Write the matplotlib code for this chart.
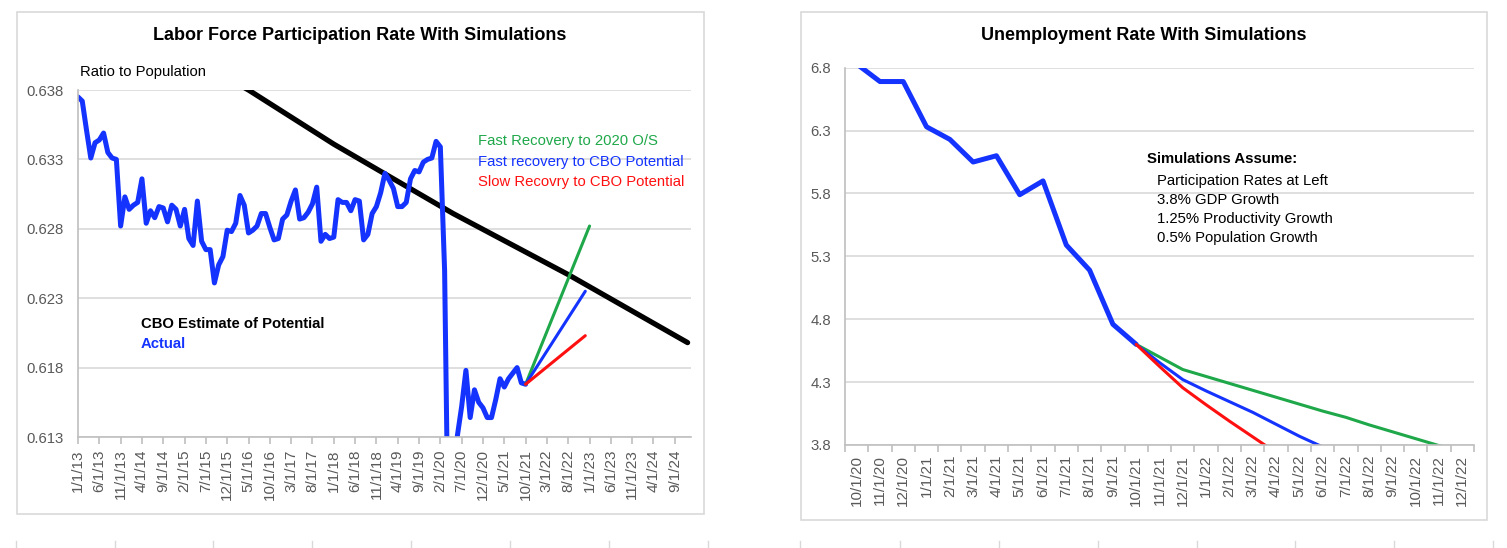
#!/usr/bin/env python

import matplotlib
matplotlib.use('Agg')
import matplotlib.pyplot as plt
import numpy as np
import pandas as pd
from matplotlib.patches import Rectangle
from matplotlib.lines import Line2D

# Figure size in pixels
W, H = 1507, 548

plt.rcParams['font.family'] = ['Liberation Sans', 'DejaVu Sans']

# ---- Left chart data (monthly index, 0 = Jan 2013) ----
lfpr_months = pd.date_range('2013-01-01', '2024-12-01', freq='MS')
lfpr_actual = [
    0.6375, 0.6372, 0.6351, 0.6331, 0.6342, 0.6344, 0.6349, 0.6335, 0.6331, 0.6330,
    0.6282, 0.6303, 0.6294, 0.6297, 0.6299, 0.6316, 0.6284, 0.6293, 0.6288, 0.6296,
    0.6295, 0.6285, 0.6297, 0.6294, 0.6282, 0.6294, 0.6273, 0.6268, 0.6300, 0.6271,
    0.6265, 0.6265, 0.6241, 0.6254, 0.6260, 0.6279, 0.6278, 0.6284, 0.6304, 0.6297,
    0.6277, 0.6279, 0.6282, 0.6291, 0.6291, 0.6281, 0.6272, 0.6273, 0.6287, 0.6290,
    0.6300, 0.6308, 0.6287, 0.6288, 0.6292, 0.6298, 0.6310, 0.6271, 0.6276, 0.6273,
    0.6274, 0.6301, 0.6299, 0.6299, 0.6293, 0.6301, 0.6300, 0.6272, 0.6276, 0.6291,
    0.6296, 0.6306, 0.6320, 0.6315, 0.6309, 0.6296, 0.6296, 0.6299, 0.6316, 0.6322,
    0.6321, 0.6328, 0.6330, 0.6331, 0.6343, 0.6339,
    0.6250, 0.6020, 0.6080,
    0.6131, 0.6152, 0.6178, 0.6144, 0.6164, 0.6155, 0.6151, 0.6144, 0.6144, 0.6157,
    0.6172, 0.6166, 0.6172, 0.6176, 0.6180, 0.6169, 0.6168,
]
cbo_idx = [36, 40, 60, 88, 115, 143]
cbo_values = [0.6387, 0.6380, 0.6341, 0.6291, 0.6247, 0.6198]
sim_fast_os_idx = [105, 120]
sim_fast_os = [0.6168, 0.6282]
sim_fast_cbo_idx = [105, 119]
sim_fast_cbo = [0.6168, 0.6235]
sim_slow_cbo_idx = [105, 119]
sim_slow_cbo = [0.6168, 0.6203]
lfpr_yticks = [0.613, 0.618, 0.623, 0.628, 0.633, 0.638]

# ---- Right chart data (categories Oct 2020 .. Dec 2022) ----
ur_months = pd.date_range('2020-10-01', '2022-12-01', freq='MS')
ur_actual = [6.83, 6.69, 6.69, 6.33, 6.23, 6.05, 6.10, 5.79, 5.90, 5.39, 5.19, 4.76, 4.60]
ur_sim_start = 12
ur_sim_green = [4.60, 4.50, 4.40, 4.345, 4.29, 4.235, 4.18, 4.125, 4.07, 4.02,
                3.96, 3.905, 3.85, 3.795, 3.75]
ur_sim_blue = [4.60, 4.455, 4.32, 4.23, 4.145, 4.06, 3.965, 3.87, 3.785]
ur_sim_red = [4.60, 4.425, 4.255, 4.12, 3.99, 3.865, 3.74]
ur_yticks = [3.8, 4.3, 4.8, 5.3, 5.8, 6.3, 6.8]

# Colors
BLUE = '#1433ff'
GREEN = '#1fa84a'
RED = '#ff1010'
GRID = '#d9d9d9'
AXIS = '#bfbfbf'
TICKTXT = '#595959'


def fx(x):
    return x / W


def fy(y):
    return 1 - y / H


def date_label(d):
    return '{}/1/{:02d}'.format(d.month, d.year % 100)


def style_axes(ax):
    for s in ['top', 'right']:
        ax.spines[s].set_visible(False)
    ax.spines['left'].set_color(AXIS)
    ax.spines['bottom'].set_color(AXIS)
    ax.spines['left'].set_linewidth(1.2)
    ax.spines['bottom'].set_linewidth(1.2)
    ax.grid(axis='y', color=GRID, linewidth=1.2)
    ax.set_axisbelow(True)
    ax.tick_params(axis='y', length=0, pad=10, labelsize=10.7, labelcolor=TICKTXT)


fig = plt.figure(figsize=(W / 100, H / 100), dpi=100)

# Chart frames
for x0, y0, x1, y1 in [(17, 12, 704, 514), (801, 12, 1487, 520)]:
    fig.add_artist(Rectangle((fx(x0), fy(y1)), fx(x1) - fx(x0), fy(y0) - fy(y1),
                             transform=fig.transFigure, fill=False,
                             edgecolor=GRID, linewidth=1.2))

# Faint column marks at the very bottom
for xm in [16, 115, 213, 312, 411, 510, 609, 708, 800, 900, 999, 1098, 1197, 1295, 1394, 1493]:
    fig.add_artist(Line2D([fx(xm), fx(xm)], [fy(548), fy(541)],
                          transform=fig.transFigure, color=GRID, linewidth=1))

# ---------------- Left chart ----------------
ax1 = fig.add_axes([fx(78), fy(437), fx(691) - fx(78), fy(90) - fy(437)])
style_axes(ax1)
x_act = np.arange(len(lfpr_actual))
ax1.plot(cbo_idx, cbo_values, color='black', linewidth=3.8,
         solid_joinstyle='round', solid_capstyle='round')
ax1.plot(x_act, lfpr_actual, color=BLUE, linewidth=3.6,
         solid_joinstyle='round', solid_capstyle='round')
ax1.plot(sim_fast_os_idx, sim_fast_os, color=GREEN, linewidth=2.2, solid_capstyle='round')
ax1.plot(sim_fast_cbo_idx, sim_fast_cbo, color=BLUE, linewidth=2.2, solid_capstyle='round')
ax1.plot(sim_slow_cbo_idx, sim_slow_cbo, color=RED, linewidth=2.2, solid_capstyle='round')

ax1.set_xlim(0, 143.8)
ax1.set_ylim(0.613, 0.638)
ax1.set_yticks(lfpr_yticks)
ax1.set_yticklabels(['{:.3f}'.format(v) for v in lfpr_yticks])
tick_pos = np.arange(0, len(lfpr_months), 5)
ax1.set_xticks(tick_pos)
ax1.set_xticklabels([date_label(lfpr_months[i]) for i in tick_pos], rotation=90)
ax1.tick_params(axis='x', direction='out', length=5, width=1.2, color=AXIS,
                pad=4, labelsize=11, labelcolor=TICKTXT)

fig.text(fx(360), fy(35), 'Labor Force Participation Rate With Simulations',
         ha='center', va='center', fontsize=13, fontweight='bold')
fig.text(fx(80), fy(72), 'Ratio to Population', ha='left', va='center', fontsize=10.7)
fig.text(fx(478), fy(141), 'Fast Recovery to 2020 O/S', color=GREEN,
         ha='left', va='center', fontsize=10.7)
fig.text(fx(478), fy(162), 'Fast recovery to CBO Potential', color=BLUE,
         ha='left', va='center', fontsize=10.7)
fig.text(fx(478), fy(182), 'Slow Recovry to CBO Potential', color=RED,
         ha='left', va='center', fontsize=10.7)
fig.text(fx(141), fy(324), 'CBO Estimate of Potential', color='black',
         ha='left', va='center', fontsize=10.7, fontweight='bold')
fig.text(fx(141), fy(344), 'Actual', color=BLUE,
         ha='left', va='center', fontsize=10.7, fontweight='bold')

# ---------------- Right chart ----------------
ax2 = fig.add_axes([fx(845), fy(445), fx(1474) - fx(845), fy(67.7) - fy(445)])
style_axes(ax2)
k_act = np.arange(len(ur_actual))
ax2.plot(k_act, ur_actual, color=BLUE, linewidth=3.6,
         solid_joinstyle='round', solid_capstyle='round')
ax2.plot(ur_sim_start + np.arange(len(ur_sim_green)), ur_sim_green, color=GREEN,
         linewidth=2.2, solid_capstyle='round')
ax2.plot(ur_sim_start + np.arange(len(ur_sim_blue)), ur_sim_blue, color=BLUE,
         linewidth=2.2, solid_capstyle='round')
ax2.plot(ur_sim_start + np.arange(len(ur_sim_red)), ur_sim_red, color=RED,
         linewidth=2.2, solid_capstyle='round')

ax2.set_xlim(-0.5, len(ur_months) - 0.5)
ax2.set_ylim(3.8, 6.8)
ax2.set_yticks(ur_yticks)
ax2.set_yticklabels(['{:.1f}'.format(v) for v in ur_yticks])
ax2.set_xticks(np.arange(len(ur_months)))
ax2.set_xticklabels([date_label(d) for d in ur_months], rotation=90)
ax2.set_xticks(np.arange(len(ur_months) + 1) - 0.5, minor=True)
ax2.tick_params(axis='x', which='major', length=0, pad=7, labelsize=11,
                labelcolor=TICKTXT)
ax2.tick_params(axis='x', which='minor', direction='out', length=5, width=1.2,
                color=AXIS)

fig.text(fx(1143.5), fy(35), 'Unemployment Rate With Simulations',
         ha='center', va='center', fontsize=13, fontweight='bold')
fig.text(fx(1147), fy(159), 'Simulations Assume:', ha='left', va='center',
         fontsize=10.7, fontweight='bold')
notes = ['Participation Rates at Left', '3.8% GDP Growth',
         '1.25% Productivity Growth', '0.5% Population Growth']
for j, line in enumerate(notes):
    fig.text(fx(1157), fy(181 + 19 * j), line, ha='left', va='center', fontsize=10.7)

fig.savefig('out.png', dpi=100)
